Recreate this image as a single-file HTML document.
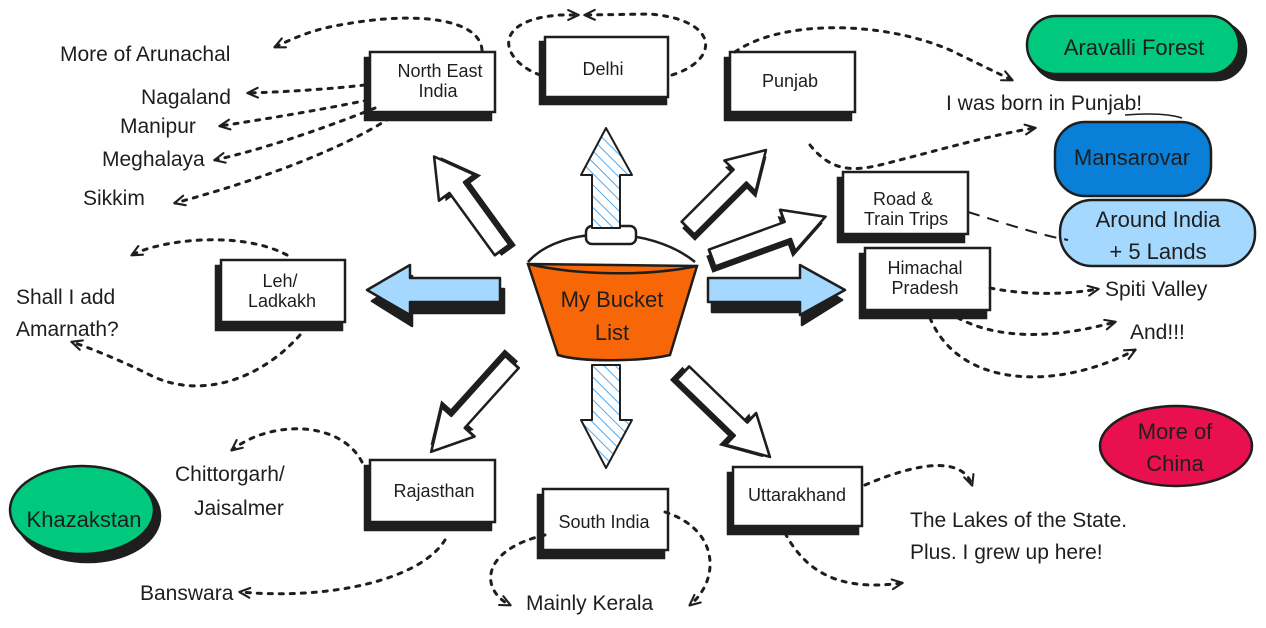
<!DOCTYPE html>
<html><head><meta charset="utf-8"><style>
html,body{margin:0;padding:0;background:#fff;}
svg{display:block}
text{font-family:"Liberation Sans",sans-serif;fill:#1e1e1e}
</style></head><body>
<svg width="1266" height="628" viewBox="0 0 1266 628" xmlns="http://www.w3.org/2000/svg">
<defs>
<marker id="ah" viewBox="0 0 20 20" refX="16" refY="10" markerWidth="14" markerHeight="14" orient="auto" markerUnits="userSpaceOnUse">
<path d="M2 3 L17 10 L2 17" fill="none" stroke="#1e1e1e" stroke-width="3" stroke-linecap="round" stroke-linejoin="round"/>
</marker>
<pattern id="hatch" width="8" height="8" patternUnits="userSpaceOnUse" patternTransform="rotate(-45)">
<rect width="8" height="8" fill="#fff"/><line x1="0" y1="0" x2="0" y2="8" stroke="#4dabf7" stroke-width="2"/>
</pattern>
<g id="barrow"><path d="M0 -9 L70 -9 L70 -22 L105 0 L70 22 L70 9 L0 9 Z" fill="#1e1e1e" transform="translate(-4,5)"/><path d="M0 -9 L70 -9 L70 -22 L105 0 L70 22 L70 9 L0 9 Z" fill="#fff" stroke="#1e1e1e" stroke-width="2.5" stroke-linejoin="round"/></g>
</defs>

<!-- Boxes -->
<g stroke="#1e1e1e" stroke-width="2.5">
<rect x="365" y="58" width="126" height="62" fill="#1e1e1e"/><rect x="370" y="52" width="125" height="60" fill="#fff"/>
<rect x="540" y="42" width="126" height="62" fill="#1e1e1e"/><rect x="545" y="37" width="123" height="60" fill="#fff"/>
<rect x="725" y="58" width="126" height="62" fill="#1e1e1e"/><rect x="730" y="52" width="125" height="60" fill="#fff"/>
<rect x="838" y="178" width="126" height="64" fill="#1e1e1e"/><rect x="843" y="172" width="125" height="62" fill="#fff"/>
<rect x="860" y="254" width="126" height="64" fill="#1e1e1e"/><rect x="865" y="248" width="125" height="62" fill="#fff"/>
<rect x="216" y="266" width="126" height="64" fill="#1e1e1e"/><rect x="221" y="260" width="124" height="62" fill="#fff"/>
<rect x="365" y="466" width="126" height="64" fill="#1e1e1e"/><rect x="370" y="460" width="125" height="62" fill="#fff"/>
<rect x="538" y="495" width="126" height="63" fill="#1e1e1e"/><rect x="543" y="489" width="125" height="61" fill="#fff"/>
<rect x="728" y="473" width="130" height="61" fill="#1e1e1e"/><rect x="733" y="467" width="129" height="59" fill="#fff"/>
</g>
<g font-size="18" text-anchor="middle">
<text x="440" y="77">North East</text><text x="438" y="97">India</text>
<text x="603" y="75">Delhi</text>
<text x="790" y="87">Punjab</text>
<text x="903" y="205">Road &amp;</text><text x="906" y="225">Train Trips</text>
<text x="925" y="274">Himachal</text><text x="925" y="294">Pradesh</text>
<text x="280" y="287">Leh/</text><text x="282" y="307">Ladkakh</text>
<text x="434" y="497">Rajasthan</text>
<text x="604" y="528">South India</text>
<text x="797" y="501">Uttarakhand</text>
</g>

<!-- Clouds -->
<g stroke="#1e1e1e" stroke-width="2.5">
<rect x="1032" y="22" width="214" height="58" rx="29" fill="#1e1e1e"/><rect x="1027" y="16" width="212" height="58" rx="29" fill="#00c97e"/>
<rect x="1055" y="122" width="156" height="74" rx="30" fill="#0a7fd8"/>
<rect x="1060" y="200" width="195" height="66" rx="32" fill="#a5d8ff"/>
<ellipse cx="1176" cy="446" rx="76" ry="40" fill="#e8104f"/>
<ellipse cx="88" cy="516" rx="72" ry="46" fill="#1e1e1e"/><ellipse cx="82" cy="510" rx="72" ry="44" fill="#00c97e"/>
</g>
<g font-size="22" text-anchor="middle">
<text x="1134" y="55">Aravalli Forest</text>
<text x="1132" y="165">Mansarovar</text>
<text x="1158" y="227">Around India</text><text x="1158" y="259">+ 5 Lands</text>
<text x="1175" y="439">More of</text><text x="1175" y="471">China</text>
<text x="84" y="527">Khazakstan</text>
</g>

<!-- Free text -->
<g font-size="21">
<text x="60" y="61">More of Arunachal</text>
<text x="141" y="104">Nagaland</text>
<text x="120" y="133">Manipur</text>
<text x="102" y="166">Meghalaya</text>
<text x="83" y="205">Sikkim</text>
<text x="946" y="110">I was born in Punjab!</text>
<text x="16" y="304">Shall I add</text><text x="16" y="336">Amarnath?</text>
<text x="1105" y="296">Spiti Valley</text>
<text x="1130" y="339">And!!!</text>
<text x="175" y="481">Chittorgarh/</text><text x="194" y="515">Jaisalmer</text>
<text x="140" y="600">Banswara</text>
<text x="526" y="610">Mainly Kerala</text>
<text x="910" y="527">The Lakes of the State.</text>
<text x="910" y="559">Plus. I grew up here!</text>
</g>
<path d="M1125 115 C1150 113 1170 114 1182 118" fill="none" stroke="#1e1e1e" stroke-width="1.5"/>

<!-- Dotted connectors -->
<g fill="none" stroke="#1e1e1e" stroke-width="3" stroke-dasharray="4 7" stroke-linecap="round" marker-end="url(#ah)">
<path d="M482 50 C480 20 420 10 340 25 C310 30 290 40 275 47"/>
<path d="M365 85 C320 90 280 92 248 93"/>
<path d="M368 100 C320 110 260 120 220 126"/>
<path d="M375 108 C320 130 260 150 215 160"/>
<path d="M390 118 C340 150 260 180 175 203"/>
<path d="M540 75 C500 60 490 20 560 15 L578 15"/>
<path d="M672 75 C720 60 720 20 650 14 L585 15"/>
<path d="M735 52 C780 20 880 20 950 50 C975 62 995 72 1012 80"/>
<path d="M810 145 C830 170 850 172 880 165 C940 150 990 135 1035 128"/>
<path d="M287 255 C240 230 160 240 132 255"/>
<path d="M300 335 C260 380 200 400 150 375 C120 360 90 348 72 342"/>
<path d="M990 288 C1030 296 1070 294 1098 289"/>
<path d="M948 312 C990 340 1050 340 1115 322"/>
<path d="M930 318 C960 390 1060 390 1135 350"/>
<path d="M362 462 C340 420 270 420 232 450"/>
<path d="M445 540 C420 580 330 600 240 592"/>
<path d="M545 535 C480 550 480 590 510 605"/>
<path d="M665 512 C720 530 720 580 690 605"/>
<path d="M865 485 C900 470 960 450 972 485"/>
<path d="M785 533 C810 580 850 590 902 583"/>
</g>
<path d="M968 212 C1010 225 1040 235 1068 240" fill="none" stroke="#1e1e1e" stroke-width="2" stroke-dasharray="12 8"/>

<!-- Bucket -->
<g stroke="#1e1e1e" stroke-width="2.5">
<path d="M528 262 C560 225 650 225 695 262" fill="none"/>
<rect x="586" y="226" width="50" height="18" rx="6" fill="#fff"/>
<path d="M528 264 L697 266 L670 355 C640 362 580 362 558 355 Z" fill="#f76707"/>
<path d="M528 264 C580 276 650 276 697 266" fill="none"/>
</g>
<text x="612" y="307" font-size="22" text-anchor="middle">My Bucket</text>
<text x="612" y="340" font-size="22" text-anchor="middle">List</text>

<!-- Hatched vertical arrows -->
<g stroke="#1e1e1e" stroke-width="2" fill="url(#hatch)" stroke-linejoin="round">
<path d="M592 228 L592 175 L581 175 L606 128 L632 175 L620 175 L620 228 Z"/>
<path d="M592 365 L620 365 L620 420 L632 420 L606 468 L581 420 L592 420 Z"/>
</g>
<!-- Blue horizontal arrows -->
<g stroke="#1e1e1e" stroke-width="2.5" stroke-linejoin="round">
<path d="M504 283 L412 283 L412 270 L372 295 L412 320 L412 307 L504 307 Z" fill="#1e1e1e" transform="translate(0,6)"/>
<path d="M500 278 L410 278 L410 265 L367 290 L410 315 L410 302 L500 302 Z" fill="#a5d8ff"/>
<path d="M712 284 L802 284 L802 271 L842 296 L802 321 L802 308 L712 308 Z" fill="#1e1e1e" transform="translate(0,4)"/>
<path d="M708 278 L800 278 L800 265 L845 290 L800 315 L800 302 L708 302 Z" fill="#a5d8ff"/>
</g>
<!-- White block arrows -->
<use href="#barrow" transform="translate(502,250) rotate(-126) scale(1.1,1)"/>
<use href="#barrow" transform="translate(688,228) rotate(-45) scale(1.05,1)"/>
<use href="#barrow" transform="translate(712,258) rotate(-20) scale(1.15,1)"/>
<use href="#barrow" transform="translate(512,362) rotate(132) scale(1.15,1)"/>
<use href="#barrow" transform="translate(683,373) rotate(44) scale(1.15,1)"/>
</svg>
</body></html>
